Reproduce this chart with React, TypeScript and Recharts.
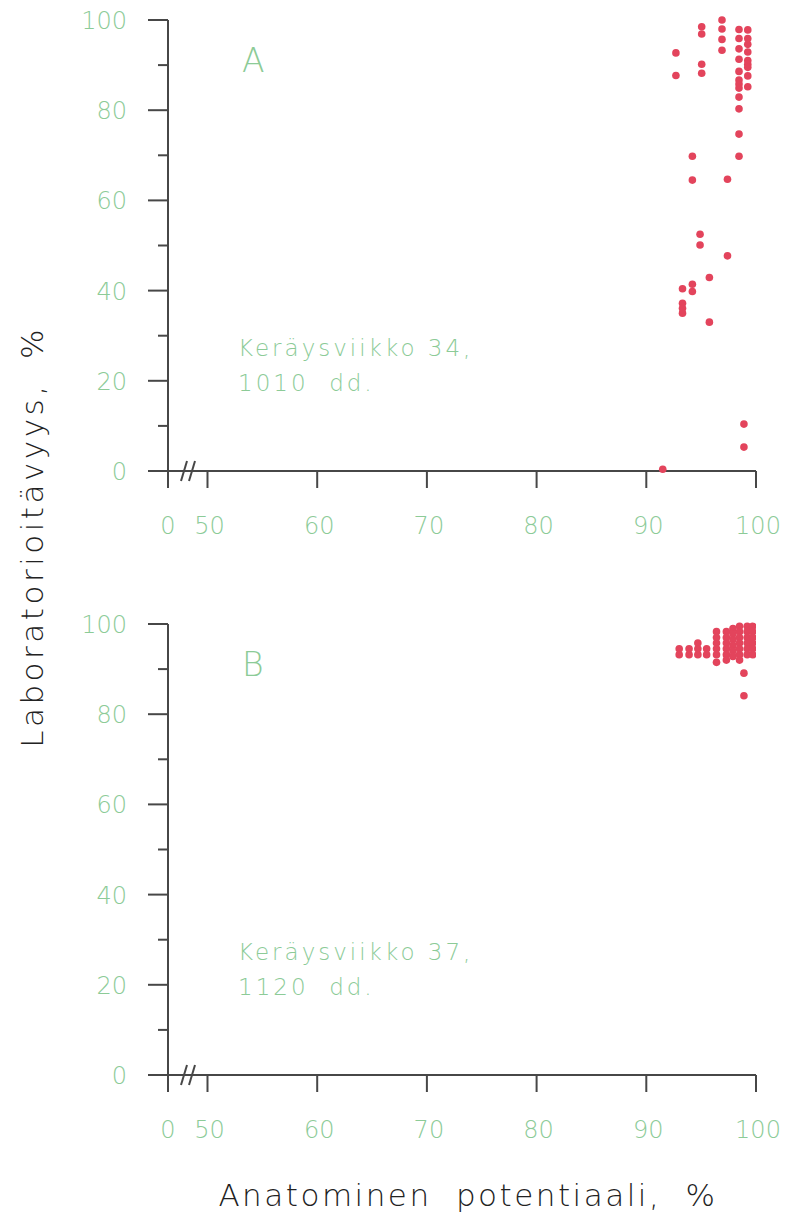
import React from "react";
import { ScatterChart, Scatter, XAxis, YAxis } from "recharts";

const GREEN = "#8ccb97";
const AXIS = "#474747";
const DOT = "#e3445c";
const FONT = "'DejaVu Sans', sans-serif";

// 46.4 sits where the broken axis shows its "0"
const BREAK_AT = 46.4;
const xTicks = [BREAK_AT, 50, 60, 70, 80, 90, 100];
const yTicks = [0, 10, 20, 30, 40, 50, 60, 70, 80, 90, 100];
const yLabelled = [0, 20, 40, 60, 80, 100];

// [anatominen potentiaali, laboratorioitävyys]
const week34: [number, number][] = [
  [96.9, 100], [96.9, 98], [96.9, 95.7], [96.9, 93.3],
  [95.05, 98.5], [95.05, 96.9], [95.05, 90.2], [95.05, 88.2],
  [92.7, 92.7], [92.7, 87.7],
  [98.45, 97.9], [98.45, 95.9], [98.45, 93.6], [98.45, 91.3], [98.45, 88.6], [98.45, 86.7],
  [98.45, 85.8], [98.45, 84.9], [98.45, 82.9], [98.45, 80.3], [98.45, 74.7], [98.45, 69.8],
  [99.25, 97.8], [99.25, 95.9], [99.25, 94.6], [99.25, 92.9], [99.25, 91], [99.25, 90.2],
  [99.25, 89.5], [99.25, 87.6], [99.25, 85.2],
  [94.2, 69.8], [94.2, 64.5], [97.4, 64.7], [94.9, 52.5], [94.9, 50.1], [97.4, 47.7],
  [95.75, 42.9], [93.3, 40.4], [94.2, 41.4], [94.2, 39.8], [93.3, 37.2], [93.3, 36.1],
  [93.3, 35.0], [95.75, 33.0], [98.9, 10.4], [98.9, 5.3], [91.5, 0.4],
];

const week37: [number, number][] = [
  [93.0, 94.5], [93.0, 93.2], [93.9, 94.5], [93.9, 93.2],
  [94.7, 95.8], [94.7, 94.5], [94.7, 93.2], [95.5, 94.5], [95.5, 93.2],
  [96.4, 98.3], [96.4, 97.0], [96.4, 95.8], [96.4, 94.5], [96.4, 93.2], [96.4, 91.5],
  [97.3, 98.3], [97.3, 97.0], [97.3, 95.8], [97.3, 94.5], [97.3, 93.2], [97.3, 92.0],
  [97.9, 99.0], [97.9, 97.8], [97.9, 96.5], [97.9, 95.2], [97.9, 94.0], [97.9, 92.8],
  [98.5, 99.5], [98.5, 98.3], [98.5, 97.0], [98.5, 95.8], [98.5, 94.5], [98.5, 93.2], [98.5, 92.0],
  [98.9, 89.1], [98.9, 84.1],
  [99.2, 99.5], [99.2, 98.3], [99.2, 97.0], [99.2, 95.8], [99.2, 94.5], [99.2, 93.2],
  [99.7, 99.5], [99.7, 98.3], [99.7, 97.0], [99.7, 95.8], [99.7, 94.5], [99.7, 93.2],
];

const panels = [
  { id: "A", week: "Keräysviikko 34,", dd: "1010  dd.", points: week34, top: 0 },
  { id: "B", week: "Keräysviikko 37,", dd: "1120  dd.", points: week37, top: 604 },
];

const X_MARGIN = 10;
const Y_MARGIN = 41;

const XTick = (props: any) => {
  const { x, y, payload } = props;
  const v = payload.value;
  const axisY = y - X_MARGIN;
  return (
    <g>
      <line x1={x} x2={x} y1={axisY} y2={axisY + 17} stroke={AXIS} strokeWidth={2} />
      {v === BREAK_AT && (
        <g stroke={AXIS} strokeWidth={2}>
          <line x1={x + 13} y1={axisY + 10} x2={x + 19} y2={axisY - 10} />
          <line x1={x + 21} y1={axisY + 10} x2={x + 27} y2={axisY - 10} />
        </g>
      )}
      <text x={x + (v === BREAK_AT ? 0 : 2)} y={axisY + 63} textAnchor="middle" fill={GREEN}
        fontSize={24} fontFamily={FONT} fontWeight={200}>
        {v === BREAK_AT ? "0" : v}
      </text>
    </g>
  );
};

const YTick = (props: any) => {
  const { x, y, payload } = props;
  const v = payload.value;
  const axisX = x + Y_MARGIN;
  const major = yLabelled.includes(v);
  return (
    <g>
      <line x1={axisX - (major ? 20 : 10)} x2={axisX} y1={y} y2={y} stroke={AXIS} strokeWidth={2} />
      {major && (
        <text x={x} y={y + 9} textAnchor="end" fill={GREEN} fontSize={24} fontFamily={FONT} fontWeight={200}>
          {v}
        </text>
      )}
    </g>
  );
};

const Dot = (props: any) => {
  const { cx = 0, cy = 0 } = props;
  return <circle cx={cx} cy={cy} r={3.8} fill={DOT} />;
};

const note = { fill: GREEN, fontSize: 23, fontFamily: FONT, fontWeight: 200, letterSpacing: 3, whiteSpace: "pre" as const };

export default function App() {
  return (
    <div style={{ position: "absolute", left: 0, top: 0, width: 788, height: 1218, background: "#fff" }}>
      {panels.map((p) => (
        <div key={p.id} style={{ position: "absolute", left: 0, top: p.top }}>
          <ScatterChart width={788} height={560} margin={{ top: 20, right: 32, bottom: 29, left: 108 }}>
            <XAxis
              dataKey="x" type="number" domain={[BREAK_AT, 100]} ticks={xTicks} interval={0}
              allowDataOverflow height={60} tickSize={0} tickMargin={X_MARGIN}
              axisLine={{ stroke: AXIS, strokeWidth: 2 }} tick={<XTick />}
            />
            <YAxis
              dataKey="y" type="number" domain={[0, 100]} ticks={yTicks} interval={0}
              width={60} tickSize={0} tickMargin={Y_MARGIN}
              axisLine={{ stroke: AXIS, strokeWidth: 2 }} tick={<YTick />}
            />
            <Scatter
              data={p.points.map(([x, y]) => ({ x, y }))}
              shape={<Dot />}
              isAnimationActive={false}
            />
          </ScatterChart>
          <svg width={788} height={560} style={{ position: "absolute", left: 0, top: 0, pointerEvents: "none" }}>
            <text x={242} y={72} fill={GREEN} fontSize={33} fontFamily={FONT} fontWeight={200}>{p.id}</text>
            <text x={238} y={356} style={note}>{p.week}</text>
            <text x={238} y={391} style={note}>{p.dd}</text>
          </svg>
        </div>
      ))}
      <svg width={788} height={1218} style={{ position: "absolute", left: 0, top: 0, pointerEvents: "none" }}>
        <text x={32} y={537} transform="rotate(-90 32 537)" textAnchor="middle" dominantBaseline="central"
          fill="#222" fontSize={31} fontFamily={FONT} fontWeight={200} letterSpacing={3.5} wordSpacing={10}>
          Laboratorioitävyys, %
        </text>
        <text x={468} y={1206} textAnchor="middle" fill="#222" fontSize={31} fontFamily={FONT}
          fontWeight={200} letterSpacing={2.5} wordSpacing={12}>
          Anatominen potentiaali, %
        </text>
      </svg>
    </div>
  );
}
